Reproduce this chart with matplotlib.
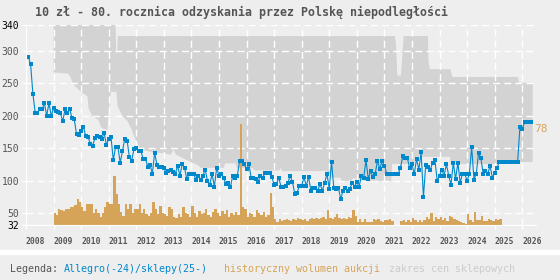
import matplotlib.pyplot as plt
import numpy as np
from matplotlib.patches import Rectangle

title = '10 zł - 80. rocznica odzyskania przez Polskę niepodległości'

# cena (Allegro/sklepy), dane miesięczne od 2008-01
price = [291, 291, 280, 234, 205, 205, 210, 210, 220, 200, 220, 200, 212, 208, 206, 204, 192, 210, 204, 211,
         197, 195, 172, 170, 177, 183, 169, 168, 157, 154, 166, 169, 168, 165, 174, 155, 165, 167, 132, 152,
         152, 128, 146, 165, 162, 137, 131, 149, 151,
         146, 146, 134, 134, 122, 125, 111, 143, 125, 122, 122, 120, 112, 115, 117, 114, 111, 123, 108, 126,
         120, 103, 110, 110, 110, 102, 108, 102, 108, 117, 100, 94, 111, 91, 120, 108, 111, 105, 95, 97,
         91, 108, 105, 108, 131, 131, 126,
         118, 126, 105, 105, 103, 98, 108, 105, 112, 112, 112, 106, 94, 95, 105, 91, 91, 92, 97, 108,
         98, 80, 82, 92, 92, 106, 92, 106, 85, 89, 89, 85, 95, 85, 97, 111, 88, 129, 89, 88,
         89, 72, 85, 89, 85, 88, 97, 91, 98, 91, 108, 105, 132, 103, 115, 106, 111, 131, 118, 131,
         123, 111, 111, 111, 111, 111,
         111, 120, 138, 135, 135, 120, 126, 110, 134, 117, 144, 75, 125, 122, 117, 128, 132, 100, 108, 117,
         108, 126, 108, 94, 128, 103, 128, 97, 111, 111, 100, 111, 152, 102, 111, 143, 135, 111, 115, 111,
         123, 105, 112, 120,
         129, 129, 129, 129, 129, 129, 129, 129, 129, 183, 180, 190, 190, 190, 190]

# wolumen aukcji, miesięcznie od 2009-01
volume = [51, 48, 57, 55, 54, 57, 56, 59, 59, 63, 72, 67,
          59, 54, 64, 64, 64, 50, 56, 51, 44, 51, 59, 68,
          64, 64, 107, 80, 64, 52, 46, 64, 56, 64, 51, 57,
          56, 64, 51, 57, 49, 46, 51, 67, 56, 49, 62, 51,
          49, 46, 59, 56, 44, 43, 49, 44, 59, 51, 49, 44,
          62, 51, 44, 54, 49, 51, 56, 48, 45, 52, 57, 50,
          46, 53, 49, 55, 45, 51, 47, 52, 48, 188, 60, 56,
          44, 51, 49, 44, 55, 50, 47, 52, 45, 48, 82, 59,
          41, 37, 41, 38, 40, 41, 39, 38, 41, 40, 43, 41,
          40, 42, 38, 41, 43, 41, 43, 42, 43, 45, 42, 55,
          43, 42, 45, 49, 43, 42, 43, 42, 45, 43, 55, 46,
          36, 41, 36, 41, 37, 37, 36, 41, 39, 41, 38, 37,
          39, 40, 41, 38, np.nan, np.nan, np.nan, 38, 39, 37, 40, 36,
          43, 39, 37, 40, 36, 39, 44, 41, 50, 38, 44, 42,
          44, 40, 43, 38, 46, 44, 42, 40, 38, 37, 35, 33,
          49, 40, 37, 52, 39, 39, 46, 38, 38, 42, 40, 38,
          41, 39, 41]

# zakres cen sklepowych
lo_t = [2009.0, 2009.54, 2009.61, 2009.68, 2009.79, 2009.97, 2010.23, 2010.27, 2010.4, 2010.55, 2010.65,
        2010.72, 2010.95, 2011.0, 2011.08, 2011.28, 2011.32, 2011.5, 2011.68, 2011.82, 2011.93, 2012.04,
        2012.15, 2012.5, 2013.05, 2013.25, 2013.35, 2013.45, 2013.78, 2014.2, 2014.35, 2015.18, 2015.22,
        2015.6, 2015.65, 2016.2, 2016.3, 2017.2, 2017.24, 2017.28, 2018.9, 2018.94, 2019.4, 2019.44,
        2019.82, 2019.85, 2019.95, 2019.98, 2021.25, 2021.28, 2022.08, 2022.11, 2023.38, 2023.41,
        2025.22, 2025.26, 2026.38]
lo_v = [267, 265, 260, 252, 245, 238, 230, 212, 200, 196, 192,
        182, 178, 205, 237, 237, 215, 200, 192, 180, 168, 157,
        148, 145, 142, 140, 148, 140, 133, 125, 120, 120, 127,
        127, 120, 120, 116, 116, 121, 115, 115, 105, 105, 100,
        100, 104, 104, 100, 100, 126, 126, 137, 137, 126,
        126, 129, 129]
hi_t = [2009.0, 2011.25, 2011.27, 2011.31, 2011.33, 2021.38, 2021.42, 2021.47, 2021.6, 2021.7,
        2022.58, 2022.6, 2022.65, 2023.4, 2023.43, 2023.47, 2025.85, 2025.88, 2026.38]
hi_v = [340, 340, 300, 300, 323, 323, 311, 262, 262, 323,
        323, 285, 272, 272, 266, 260, 260, 251, 251]

years = list(range(2008, 2027))
yticks = [32, 50, 100, 150, 200, 250, 300, 340]

blue = '#0088cc'
orange = '#d6a458'
bg = '#eeeeee'
mono = 'DejaVu Sans Mono'

fig = plt.figure(figsize=(5.6, 2.8), dpi=100, facecolor=bg)
ax = fig.add_axes([26/560, 55/280, 510/560, 200/280])
ax.set_facecolor(bg)

ax.fill(np.r_[lo_t, hi_t[::-1]], np.r_[lo_v, hi_v[::-1]], color='#d3d3d3', lw=0, zorder=0.2)

vol_t = 2009 + np.arange(len(volume)) / 12
vol = np.array(volume, dtype=float)
ax.bar(vol_t, vol - 32, bottom=32, width=1/12, align='edge', color=orange, lw=0, zorder=1)

price_t = 2008 + np.arange(len(price)) / 12
ax.plot(price_t, price, color=blue, lw=0.8, marker='s', ms=2.4, mew=0, zorder=2)

ax.text(2026.45, 180, '78', color=orange, fontsize=8, va='center', ha='left', family=mono)

ax.set_xlim(2008, 2026.5)
ax.set_ylim(32, 340)
ax.set_xticks(years)
ax.set_xticklabels([str(y) for y in years], ha='left', fontsize=5.8, fontweight='bold', family=mono)
ax.set_yticks(yticks)
ax.set_yticklabels([str(v) for v in yticks], fontsize=7, family=mono)

ax.grid(True, color='white', lw=1, linestyle=(0, (5, 3)))
ax.set_axisbelow(True)
ax.tick_params(color='white', labelcolor='#555555', length=3, width=1, pad=2)
ax.tick_params(axis='x', pad=6)
for lbl, v in zip(ax.get_yticklabels(), yticks):
    if v in (32, 340):
        lbl.set_color('black')
for s in ['top', 'right']:
    ax.spines[s].set_visible(False)
for s in ['left', 'bottom']:
    ax.spines[s].set_color('white')

fig.text(35/560, 1 - 12.5/280, title, ha='left', va='center', family=mono,
         fontweight='bold', fontsize=8.4, color='#555555')

fig.patches.append(Rectangle((0, 1 - 254/280), 1, 4/280, transform=fig.transFigure,
                             color='white', zorder=0))
ly = 1 - 269.5/280
fig.text(10/560, ly, 'Legenda:', color='#555555', fontsize=7.2, va='center', family=mono)
fig.text(64/560, ly, 'Allegro(-24)/sklepy(25-)', color=blue, fontsize=7.2, va='center', family=mono)
fig.text(224/560, ly, 'historyczny wolumen aukcji', color=orange, fontsize=7.2, va='center', family=mono)
fig.text(389/560, ly, 'zakres cen sklepowych', color='#cccccc', fontsize=7.2, va='center', family=mono)

fig.savefig('out.png', dpi=100, facecolor=bg)
